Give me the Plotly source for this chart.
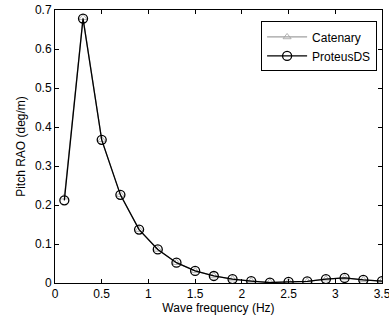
import plotly.graph_objects as go

freq = [0.1, 0.3, 0.5, 0.7, 0.9, 1.1, 1.3, 1.5, 1.7, 1.9, 2.1, 2.3, 2.5, 2.7, 2.9, 3.1, 3.3, 3.5]
catenary = [0.220, 0.680, 0.367, 0.226, 0.137, 0.086, 0.052, 0.031, 0.018, 0.010, 0.005, 0.002, 0.003, 0.004, 0.010, 0.013, 0.008, 0.005]
proteus = [0.212, 0.678, 0.367, 0.226, 0.137, 0.086, 0.052, 0.031, 0.018, 0.010, 0.005, 0.001, 0.003, 0.004, 0.010, 0.013, 0.008, 0.005]

FONT = "Liberation Sans, Arial"

fig = go.Figure()
fig.add_trace(go.Scatter(
    x=freq, y=catenary, name="Catenary", mode="lines+markers",
    line=dict(color="#a0a0a0", width=1.2),
    marker=dict(symbol="triangle-up-open", size=7, color="#a0a0a0", line=dict(width=0.8)),
))
fig.add_trace(go.Scatter(
    x=freq, y=proteus, name="ProteusDS", mode="lines+markers",
    line=dict(color="black", width=1.3),
    marker=dict(symbol="circle-open", size=9, color="black", line=dict(width=1.3)),
))

axis_common = dict(
    showline=True, linecolor="black", linewidth=1, mirror="ticks",
    ticks="inside", ticklen=4, tickcolor="black", showgrid=False, zeroline=False,
    automargin=False, ticklabeloverflow="allow",
    tickfont=dict(family=FONT, size=12, color="black"),
)
fig.update_xaxes(range=[0, 3.5], tickvals=[0, 0.5, 1, 1.5, 2, 2.5, 3, 3.5],
                 ticktext=["0", "0.5", "1", "1.5", "2", "2.5", "3", "3.5"],
                 title=dict(text="Wave frequency (Hz)", standoff=2,
                            font=dict(family=FONT, size=12, color="black")),
                 **axis_common)
fig.update_yaxes(range=[0, 0.7], tickvals=[0, 0.1, 0.2, 0.3, 0.4, 0.5, 0.6, 0.7],
                 ticktext=["0", "0.1", "0.2", "0.3", "0.4", "0.5", "0.6", "0.7"],
                 title=dict(text="Pitch RAO (deg/m)", standoff=6,
                            font=dict(family=FONT, size=12, color="black")),
                 **axis_common)

fig.update_layout(
    width=389, height=324,
    margin=dict(l=55, r=7, t=10, b=41),
    paper_bgcolor="white", plot_bgcolor="white",
    font=dict(family=FONT, size=12, color="black"),
    legend=dict(x=0.985, xanchor="right", y=0.958, yanchor="top",
                bordercolor="black", borderwidth=1, bgcolor="white",
                font=dict(size=12), tracegroupgap=0, itemwidth=40),
    showlegend=True,
)
fig.write_html(
    "out.html",
    config={"displayModeBar": False},
    post_script="document.body.style.margin='0';document.body.style.overflow='hidden';",
)
